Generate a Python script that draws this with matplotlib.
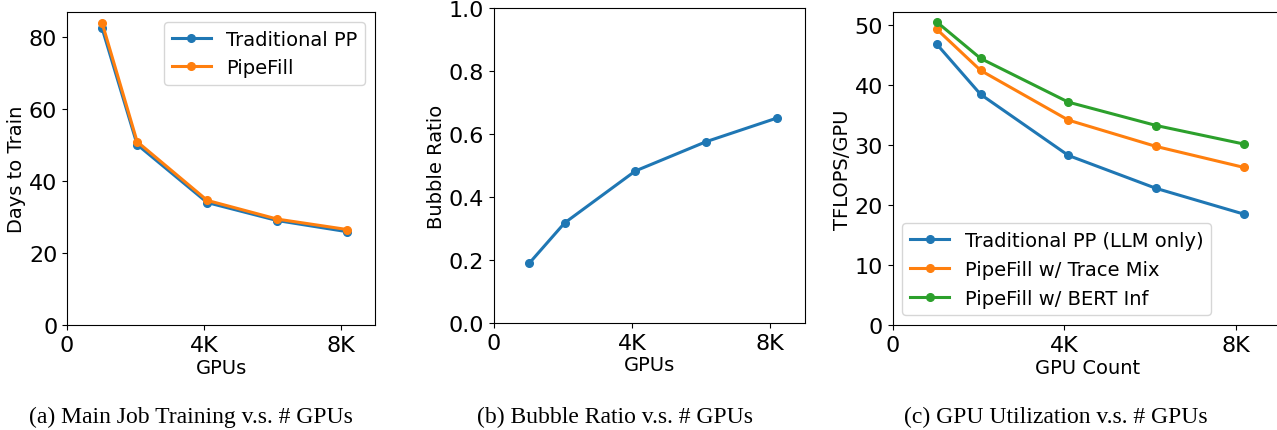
import matplotlib
matplotlib.use("Agg")
import matplotlib.pyplot as plt

gpus = [1024, 2048, 4096, 6144, 8192]
days_trad = [82.4, 50.1, 34.0, 29.0, 25.9]
days_pipefill = [83.9, 50.9, 34.6, 29.4, 26.5]
bubble_ratio = [0.19, 0.318, 0.483, 0.576, 0.651]
tflops_trad = [46.9, 38.5, 28.3, 22.8, 18.5]
tflops_trace = [49.4, 42.5, 34.2, 29.8, 26.3]
tflops_bert = [50.6, 44.5, 37.2, 33.3, 30.2]
xticks = [0, 4000, 8000]
xticklabels = ["0", "4K", "8K"]
captions = ["(a) Main Job Training v.s. # GPUs",
            "(b) Bubble Ratio v.s. # GPUs",
            "(c) GPU Utilization v.s. # GPUs"]

blue, orange, green = "#1f77b4", "#ff7f0e", "#2ca02c"
TICK = 16
LAB = 14
lw = 2.2
ms = 5.5

fig = plt.figure(figsize=(12.77, 4.31), dpi=100)
axa = fig.add_axes([0.0525, 0.2436, 0.2412, 0.7262])
axb = fig.add_axes([0.3868, 0.2483, 0.2433, 0.7302])
axc = fig.add_axes([0.6991, 0.2436, 0.3045, 0.7255])

axa.plot(gpus, days_trad, marker="o", color=blue, lw=lw, ms=ms, label="Traditional PP")
axa.plot(gpus, days_pipefill, marker="o", color=orange, lw=lw, ms=ms, label="PipeFill")
axa.set_ylim(0, 86.9)
axa.set_yticks([0, 20, 40, 60, 80])
axa.set_ylabel("Days to Train", fontsize=LAB, labelpad=2)
axa.legend(loc="upper right", fontsize=LAB, handlelength=2.0)

axb.plot(gpus, bubble_ratio, marker="o", color=blue, lw=lw, ms=ms)
axb.set_ylim(0, 1.0)
axb.set_yticks([0.0, 0.2, 0.4, 0.6, 0.8, 1.0])
axb.set_ylabel("Bubble Ratio", fontsize=LAB, labelpad=2)

axc.plot(gpus, tflops_trad, marker="o", color=blue, lw=lw, ms=ms, label="Traditional PP (LLM only)")
axc.plot(gpus, tflops_trace, marker="o", color=orange, lw=lw, ms=ms, label="PipeFill w/ Trace Mix")
axc.plot(gpus, tflops_bert, marker="o", color=green, lw=lw, ms=ms, label="PipeFill w/ BERT Inf")
axc.set_ylim(0, 52.2)
axc.set_yticks([0, 10, 20, 30, 40, 50])
axc.set_ylabel("TFLOPS/GPU", fontsize=LAB, labelpad=2)
axc.legend(loc="lower left", fontsize=LAB, handlelength=2.0)

for ax, xl in zip([axa, axb, axc], ["GPUs", "GPUs", "GPU Count"]):
    ax.set_xlim(0, 9000 * (0.3045 / 0.3023) if ax is axc else 9000)
    ax.set_xticks(xticks)
    ax.set_xticklabels(xticklabels)
    ax.set_xlabel(xl, fontsize=LAB, labelpad=2)
    ax.tick_params(labelsize=TICK)

cap_x = [191 / 1277, 615 / 1277, 1056 / 1277]
for x, c in zip(cap_x, captions):
    fig.text(x, 1 - 417 / 431, c, ha="center", va="center",
             fontsize=17, family="Liberation Serif")

fig.savefig("out.png", dpi=100)
